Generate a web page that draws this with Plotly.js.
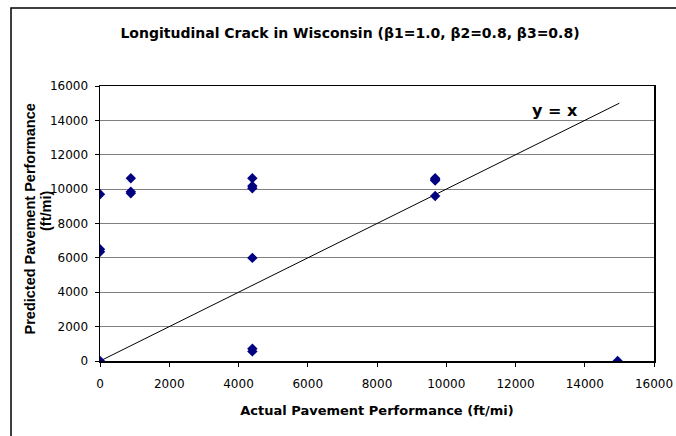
<!DOCTYPE html>
<html>
<head>
<meta charset="utf-8">
<script src="https://cdn.plot.ly/plotly-3.0.1.min.js"></script>
<style>html,body{margin:0;padding:0;background:#fff;}#chart{width:676px;height:436px;}</style>
</head>
<body>
<div id="chart"></div>
<script>
// Actual vs predicted longitudinal crack (ft/mi)
const actualValues = [0, 0, 0, 0, 890, 890, 890, 4400, 4400, 4400, 4400, 4400, 4400, 9680, 9680, 9680, 9680, 14950];
const predictedValues = [0, 6350, 6500, 9700, 10630, 9850, 9760, 10630, 10180, 10050, 6000, 720, 560, 10630, 10550, 10500, 9600, 0];
const equalityLineX = [0, 15000];
const equalityLineY = [0, 15000];
const xTickValues = [0, 2000, 4000, 6000, 8000, 10000, 12000, 14000, 16000];
const yTickValues = [0, 2000, 4000, 6000, 8000, 10000, 12000, 14000, 16000];
const chartTitle = "Longitudinal Crack in Wisconsin (β1=1.0, β2=0.8, β3=0.8)";
const xTitle = "Actual Pavement Performance (ft/mi)";
const yTitleLine1 = "Predicted Pavement Performance";
const yTitleLine2 = "(ft/mi)";
const lineLabel = "y = x";

const WIDE = "DejaVu Sans, Verdana, sans-serif";
const NARROW = "Liberation Sans, Arial, sans-serif";

const traces = [
  {
    x: equalityLineX, y: equalityLineY, type: "scatter", mode: "lines",
    line: {color: "#000000", width: 1}, hoverinfo: "skip", showlegend: false
  },
  {
    x: actualValues, y: predictedValues, type: "scatter", mode: "markers",
    marker: {symbol: "diamond", color: "#000080", size: 8, line: {width: 0}},
    showlegend: false
  }
];

const layout = {
  width: 676, height: 436,
  margin: {l: 100, r: 22, t: 86, b: 75},
  paper_bgcolor: "#ffffff", plot_bgcolor: "#ffffff",
  font: {family: WIDE, size: 12, color: "#000000"},
  title: {
    text: "<b>" + chartTitle + "</b>",
    font: {family: WIDE, size: 14, color: "#000000"},
    x: 350 / 676, xref: "container", xanchor: "center",
    y: 1 - 33 / 436, yref: "container", yanchor: "middle"
  },
  xaxis: {
    range: [0, 16000], tickvals: xTickValues, ticktext: xTickValues.map(String),
    showgrid: false, zeroline: false,
    showline: true, linecolor: "#000000", linewidth: 1.5, mirror: true,
    ticks: "outside", ticklen: 4, tickcolor: "#000000", tickwidth: 1,
    ticklabelstandoff: 7,
    tickfont: {family: WIDE, size: 12, color: "#000000"},
    title: {text: "<b>" + xTitle + "</b>", font: {family: WIDE, size: 13, color: "#000000"}, standoff: 16},
    automargin: false, fixedrange: true
  },
  yaxis: {
    range: [0, 16000], tickvals: yTickValues, ticktext: yTickValues.map(String),
    showgrid: true, gridcolor: "#808080", gridwidth: 1, zeroline: false,
    showline: true, linecolor: "#000000", linewidth: 1.5, mirror: true,
    ticks: "outside", ticklen: 4, tickcolor: "#000000", tickwidth: 1,
    ticklabelstandoff: 4,
    tickfont: {family: WIDE, size: 12, color: "#000000"},
    automargin: false, fixedrange: true
  },
  annotations: [
    {
      x: 13140, y: 14600, xref: "x", yref: "y", text: "<b>" + lineLabel + "</b>",
      showarrow: false, font: {family: WIDE, size: 16, color: "#000000"},
      xanchor: "center", yanchor: "middle"
    },
    {
      x: (29.5 - 100) / 554, y: (361 - 219) / 275, xref: "paper", yref: "paper",
      text: "<b>" + yTitleLine1 + "</b>", textangle: -90, showarrow: false,
      font: {family: NARROW, size: 14.5, color: "#000000"},
      xanchor: "center", yanchor: "middle"
    },
    {
      x: (46 - 100) / 554, y: (361 - 211) / 275, xref: "paper", yref: "paper",
      text: "<b>" + yTitleLine2 + "</b>", textangle: -90, showarrow: false,
      font: {family: NARROW, size: 14.5, color: "#000000"},
      xanchor: "center", yanchor: "middle"
    }
  ],
  shapes: [
    {
      type: "rect", xref: "paper", yref: "paper",
      x0: (11 - 100) / 554, x1: 1.2, y0: -0.5, y1: (361 - 8) / 275,
      line: {color: "#000000", width: 1.5}, fillcolor: "rgba(0,0,0,0)", layer: "below"
    }
  ]
};

Plotly.newPlot("chart", traces, layout, {displayModeBar: false, staticPlot: true});
</script>
</body>
</html>
